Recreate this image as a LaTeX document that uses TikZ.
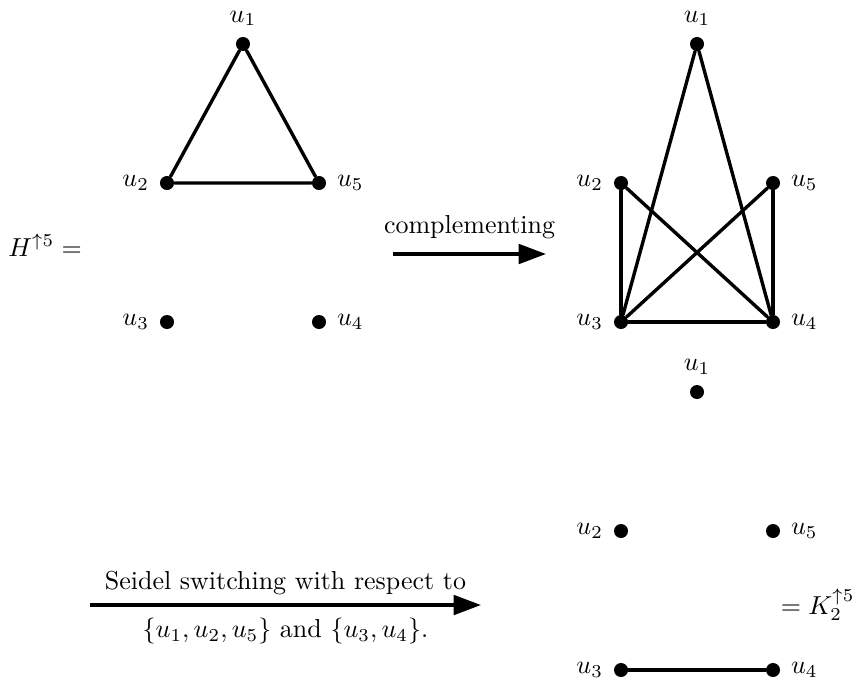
\documentclass[tikz,border=0pt]{standalone}
\usetikzlibrary{arrows.meta}
\newcommand{\Unit}{0.385pt}
\newcommand{\Edge}{1.3pt}
\newcommand{\DotR}{2.7pt}
\definecolor{ink}{HTML}{000000}

\begin{document}
\begin{tikzpicture}[x=\Unit,y=-\Unit, line join=round, line cap=round,
  vertex/.style={circle,fill=ink,inner sep=0pt,minimum size=2*\DotR},
  edge/.style={ink,line width=\Edge},
  bigarrow/.style={ink,line width=\Edge,line cap=butt,-{Triangle[length=10.5pt,width=7.5pt]}},
  label distance=0.5pt]

  \useasboundingbox (0,0) rectangle (856,680);

  % ---- the five points, three times -----------------------------------------
  % a = H, b = its complement, c = after switching
  \foreach \g/\cx/\cy in {a/243/0, b/697/0, c/697/348} {
    \node[vertex,label=above:$u_1$] (\g1) at (\cx,44+\cy) {};
    \node[vertex,label=left:$u_2$]  (\g2) at (\cx-76,183+\cy) {};
    \node[vertex,label=right:$u_5$] (\g5) at (\cx+76,183+\cy) {};
    \node[vertex,label=left:$u_3$]  (\g3) at (\cx-76,322+\cy) {};
    \node[vertex,label=right:$u_4$] (\g4) at (\cx+76,322+\cy) {};
  }

  % ---- edges ----------------------------------------------------------------
  \draw[edge] (a1) -- (a2) -- (a5) -- (a1);
  \foreach \u/\v in {1/3,1/4,2/3,2/4,5/3,5/4,3/4} {
    \draw[edge] (b\u) -- (b\v);
  }
  \draw[edge] (c3) -- (c4);

  % ---- names ----------------------------------------------------------------
  \node[anchor=base] (hname) at (45,256) {$H^{\uparrow 5} =$};
  \node[anchor=base east,inner sep=0pt] (kname) at (855,614) {$= K_2^{\uparrow 5}$};

  % ---- the two steps --------------------------------------------------------
  \coordinate (s0) at (393,254);
  \coordinate (s1) at (546,254);
  \draw[bigarrow] (s0) -- node[above,yshift=2pt] {complementing} (s1);

  \coordinate (t0) at (90,605);
  \coordinate (t1) at (481,605);
  \draw[bigarrow] (t0) -- node[above] {Seidel switching with respect to}
    node[below,yshift=-1pt] {$\{u_1,u_2,u_5\}$ and $\{u_3,u_4\}$.} (t1);

\end{tikzpicture}
\end{document}
